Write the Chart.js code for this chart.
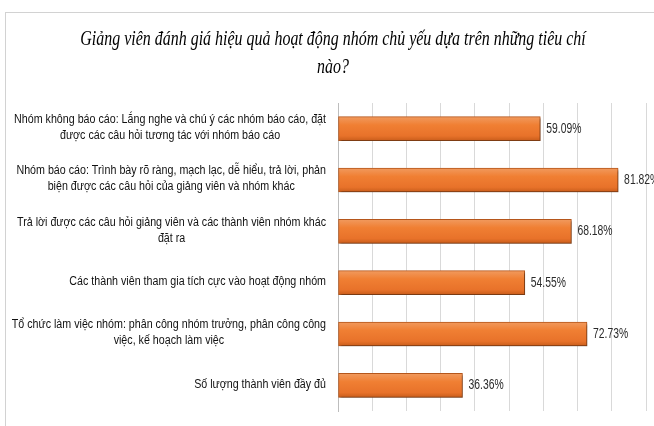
<!DOCTYPE html>
<html>
<head>
<meta charset="utf-8">
<script src="https://cdn.jsdelivr.net/npm/chart.js@4.4.1/dist/chart.umd.min.js"></script>
<style>
  html, body { margin: 0; padding: 0; background: #fff; overflow: hidden; }
  #frame {
    position: absolute; left: 5px; top: 12px; width: 720px; height: 500px;
    border-left: 1px solid #d2d2d2; border-top: 1px solid #d2d2d2;
  }
  #wrap { position: absolute; left: 0; top: 0; width: 654px; height: 426px; }
</style>
</head>
<body>
<div id="frame"></div>
<div id="wrap"><canvas id="chart"></canvas></div>
<script>
"use strict";

// title lines
const titleLines = [
  "Giảng viên đánh giá hiệu quả hoạt động nhóm chủ yếu dựa trên những tiêu chí",
  "nào?",
];

// categories, top to bottom (each one is a list of lines)
const categories = [
  ["Nhóm không báo cáo: Lắng nghe và chú ý các nhóm báo cáo, đặt", "được các câu hỏi tương tác với nhóm báo cáo"],
  ["Nhóm báo cáo: Trình bày rõ ràng, mạch lạc, dễ hiểu, trả lời, phản", "biện được các câu hỏi của giảng viên và nhóm khác"],
  ["Trả lời được các câu hỏi giảng viên và các thành viên nhóm khác", "đặt ra"],
  ["Các thành viên tham gia tích cực vào hoạt động nhóm"],
  ["Tổ chức làm việc nhóm: phân công nhóm trưởng, phân công công", "việc, kế hoạch làm việc"],
  ["Số lượng thành viên đầy đủ"],
];

// percentages
const values = [59.09, 81.82, 68.18, 54.55, 72.73, 36.36];

// draw text squeezed horizontally (the source picture is narrow)
const squash = (ctx, text, x, y, sx, align) => {
  ctx.save();
  ctx.translate(x, y);
  ctx.scale(sx, 1);
  ctx.textAlign = align;
  ctx.fillText(text, 0, 0);
  ctx.restore();
};

const BAR_H = 24;

// orange gradient per bar
const barFill = (c) => {
  const chart = c.chart;
  if (!chart.chartArea || c.dataIndex === undefined) return "#ed7d31";
  const yc = chart.scales.y.getPixelForValue(c.dataIndex);
  const g = chart.ctx.createLinearGradient(0, yc - BAR_H / 2, 0, yc + BAR_H / 2);
  g.addColorStop(0, "#f19a5e");
  g.addColorStop(0.35, "#f07f33");
  g.addColorStop(0.8, "#e8722a");
  g.addColorStop(1, "#c95d1b");
  return g;
};

const textPlugin = {
  id: "texts",
  beforeDatasetsDraw(chart) {
    const ctx = chart.ctx;
    ctx.save();
    ctx.shadowColor = "rgba(0,0,0,0.35)";
    ctx.shadowOffsetX = 1.5;
    ctx.shadowOffsetY = 2;
    ctx.shadowBlur = 2;
  },
  afterDatasetsDraw(chart) {
    chart.ctx.restore();
  },
  afterDraw(chart) {
    const ctx = chart.ctx;
    const yScale = chart.scales.y;
    const area = chart.chartArea;

    // title
    ctx.save();
    ctx.fillStyle = "#000";
    ctx.font = "italic 21px 'Liberation Serif'";
    ctx.textBaseline = "alphabetic";
    titleLines.forEach((line, i) => {
      squash(ctx, line, 333, 45 + i * 28, 0.76, "center");
    });
    ctx.restore();

    // category labels: block right aligned, lines centred inside it
    ctx.save();
    ctx.fillStyle = "#111";
    ctx.font = "12.5px 'Liberation Sans'";
    ctx.textBaseline = "middle";
    const sx = 0.855, lh = 16;
    categories.forEach((lines, i) => {
      const yc = yScale.getPixelForValue(i);
      const w = Math.max(...lines.map((l) => ctx.measureText(l).width)) * sx;
      const cx = area.left - 12 - w / 2;
      lines.forEach((l, k) => {
        squash(ctx, l, cx, yc - 1 + (k - (lines.length - 1) / 2) * lh, sx, "center");
      });
    });
    ctx.restore();

    // value labels
    ctx.save();
    ctx.fillStyle = "#2b2b2b";
    ctx.font = "14px 'Liberation Sans'";
    ctx.textBaseline = "middle";
    chart.getDatasetMeta(0).data.forEach((bar, i) => {
      squash(ctx, values[i].toFixed(2) + "%", bar.x + 6, bar.y, 0.74, "left");
    });
    ctx.restore();
  },
};

new Chart(document.getElementById("chart"), {
  type: "bar",
  data: {
    labels: categories,
    datasets: [
      {
        data: values,
        backgroundColor: barFill,
        borderColor: "#b5561b",
        borderWidth: 1,
        borderSkipped: false,
        barThickness: BAR_H,
      },
    ],
  },
  options: {
    indexAxis: "y",
    responsive: true,
    maintainAspectRatio: false,
    animation: false,
    events: [],
    layout: { padding: { top: 103, bottom: 15, left: 0, right: 0 } },
    plugins: {
      legend: { display: false },
      title: { display: false },
      tooltip: { enabled: false },
    },
    scales: {
      x: {
        min: 0,
        max: 92.3,
        ticks: { display: false, stepSize: 10, includeBounds: false },
        grid: { color: "#d9d9d9", drawTicks: false },
        border: { display: false },
        afterFit(scale) { scale.height = 0; },
      },
      y: {
        ticks: { display: false },
        grid: { display: false, drawTicks: false },
        border: { display: true, color: "#bdbdbd" },
        afterFit(scale) { scale.width = 338; },
      },
    },
  },
  plugins: [textPlugin],
});
</script>
</body>
</html>
